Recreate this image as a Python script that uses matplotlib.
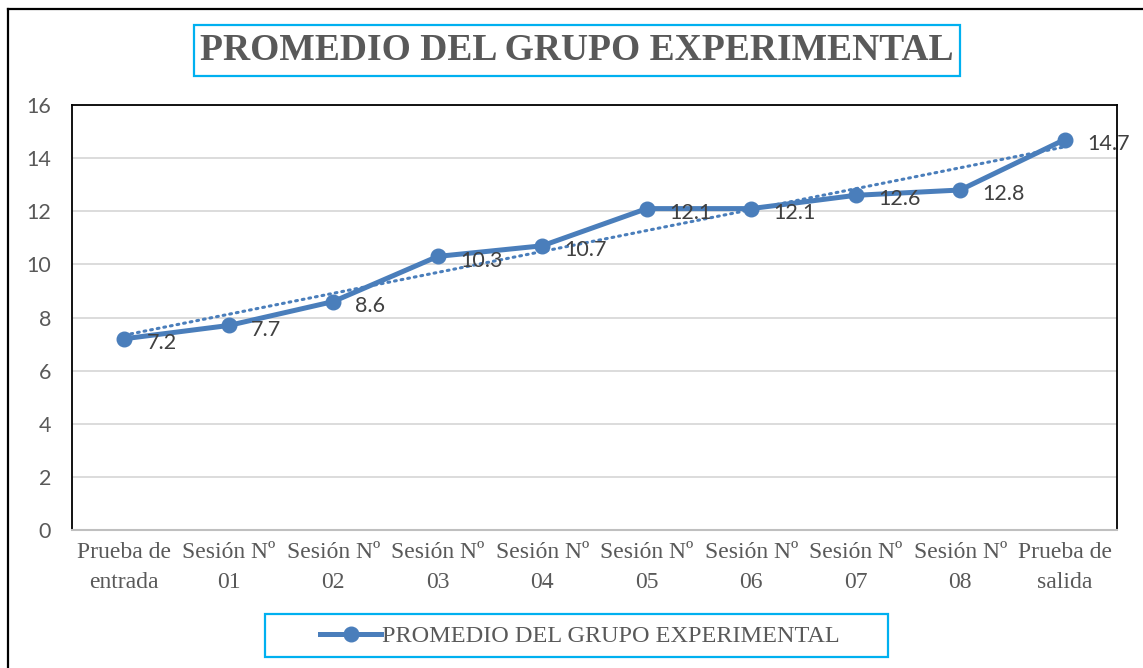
import numpy as np
import matplotlib.pyplot as plt
from matplotlib.lines import Line2D
from matplotlib.patches import Rectangle

categories = ["Prueba de\nentrada", "Sesión Nº\n01", "Sesión Nº\n02", "Sesión Nº\n03",
              "Sesión Nº\n04", "Sesión Nº\n05", "Sesión Nº\n06", "Sesión Nº\n07",
              "Sesión Nº\n08", "Prueba de\nsalida"]
values = [7.2, 7.7, 8.6, 10.3, 10.7, 12.1, 12.1, 12.6, 12.8, 14.7]
series_name = "PROMEDIO DEL GRUPO EXPERIMENTAL"

blue = "#4A7EBB"
gray = "#595959"
cyan = "#00B0F0"

fig = plt.figure(figsize=(11.43, 6.68), dpi=100)
W, H = 1143, 668
ax = fig.add_axes([72 / W, 1 - 530 / H, (1117 - 72) / W, (530 - 105) / H])

x = np.arange(len(values))
ax.plot(x, values, color=blue, lw=3.6, marker="o", markersize=10.5, zorder=3)

# linear trend line (dotted), as in the spreadsheet chart
k, b = np.polyfit(x, values, 1)
ax.plot(x, k * x + b, color=blue, lw=2.2, linestyle=(0, (0.6, 1.6)),
        dash_capstyle="round", zorder=2)

for xi, v in zip(x, values):
    ax.annotate(f"{v:.1f}", (xi, v), xytext=(16, -3), textcoords="offset points",
                ha="left", va="center", fontsize=15.5, color="#404040",
                family="Lato", zorder=4)

ax.set_xlim(-0.5, len(values) - 0.5)
ax.set_ylim(0, 16)
ax.set_yticks(range(0, 17, 2))
ax.yaxis.grid(True, color="#D9D9D9", lw=1.3)
ax.set_axisbelow(True)
ax.set_xticks(x)
ax.set_xticklabels(categories, family="Liberation Serif", fontsize=17,
                   color=gray, linespacing=1.5)
for lab in ax.get_yticklabels():
    lab.set_family("Lato")
    lab.set_fontsize(15.5)
    lab.set_color(gray)
ax.tick_params(length=0, pad=9)
ax.tick_params(axis="y", pad=15)
for s in ["left", "top", "right"]:
    ax.spines[s].set_color("black")
    ax.spines[s].set_linewidth(1.3)
ax.spines["bottom"].set_color("#BFBFBF")
ax.spines["bottom"].set_linewidth(1.5)

# title in a cyan box
fig.add_artist(Rectangle((194 / W, 1 - 76 / H), (960 - 194) / W, 51 / H,
                         transform=fig.transFigure, fc="white", ec=cyan, lw=1.6))
fig.text(577 / W, 1 - 51 / H, series_name, ha="center", va="center",
         family="Liberation Serif", weight="bold", fontsize=27, color=gray)

# legend in a wide cyan box
fig.add_artist(Rectangle((265 / W, 1 - 657 / H), (888 - 265) / W, 43 / H,
                         transform=fig.transFigure, fc="white", ec=cyan, lw=1.6))
handle = Line2D([], [], color=blue, lw=3.6, marker="o", markersize=10.5)
leg = fig.legend([handle], [series_name], loc="center", bbox_to_anchor=(580 / W, 1 - 636 / H),
                 prop={"family": "Liberation Serif", "size": 17.5}, frameon=False,
                 handlelength=2.5, handletextpad=0.05)
for t in leg.get_texts():
    t.set_color(gray)

# outer chart border
fig.add_artist(Line2D([8 / W, 8 / W], [0, 1 - 9 / H], color="black", lw=1.6,
                      transform=fig.transFigure))
fig.add_artist(Line2D([8 / W, 1], [1 - 9 / H, 1 - 9 / H], color="black", lw=1.6,
                      transform=fig.transFigure))

fig.savefig("out.png", dpi=100)
plt.close(fig)
